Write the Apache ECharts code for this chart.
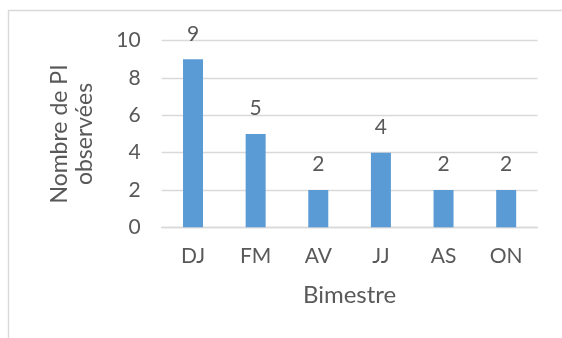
<!DOCTYPE html>
<html>
<head>
<meta charset="utf-8">
<script src="https://cdn.jsdelivr.net/npm/echarts@6/dist/echarts.min.js"></script>
<style>
  html, body { margin: 0; padding: 0; background: #ffffff; }
  #chart { width: 562px; height: 338px; }
</style>
</head>
<body>
<div id="chart"></div>
<script>
// Number of PI observed per two-month period
const categories = ['DJ', 'FM', 'AV', 'JJ', 'AS', 'ON'];
const counts = [9, 5, 2, 4, 2, 2];
const yTicks = [0, 2, 4, 6, 8, 10];

const textColor = '#595959';
const gridColor = '#d9d9d9';
const fontFamily = 'Lato, "Open Sans", sans-serif';

const chart = echarts.init(document.getElementById('chart'), null, { renderer: 'canvas' });

chart.setOption({
  animation: false,
  backgroundColor: '#ffffff',
  textStyle: { fontFamily: fontFamily, color: textColor },
  graphic: [{
    type: 'rect',
    shape: { x: 8.5, y: 10.5, width: 700, height: 500 },
    style: { fill: 'none', stroke: gridColor, lineWidth: 1.4 },
    silent: true,
    z: -1
  }],
  grid: { left: 161.7, right: 24.5, top: 40.7, bottom: 110.7 },
  xAxis: {
    type: 'category',
    data: categories,
    name: 'Bimestre',
    nameLocation: 'middle',
    nameGap: 56,
    nameTextStyle: { fontSize: 24, color: textColor, fontFamily: fontFamily },
    axisLine: { show: true, lineStyle: { color: gridColor, width: 1.4 } },
    axisTick: { show: false },
    axisLabel: { margin: 18, fontSize: 21, color: textColor, fontFamily: fontFamily }
  },
  yAxis: {
    type: 'value',
    min: yTicks[0],
    max: yTicks[yTicks.length - 1],
    interval: yTicks[1] - yTicks[0],
    name: 'Nombre de PI\nobservées',
    nameLocation: 'middle',
    nameGap: 65,
    nameTextStyle: { fontSize: 23, lineHeight: 25, color: textColor, fontFamily: fontFamily, align: 'center' },
    axisLine: { show: false },
    axisTick: { show: false },
    splitLine: { show: true, lineStyle: { color: gridColor, width: 1.4 } },
    axisLabel: { margin: 21, fontSize: 21, color: textColor, fontFamily: fontFamily }
  },
  series: [{
    type: 'bar',
    data: counts,
    barWidth: 20,
    itemStyle: { color: '#5b9bd5' },
    label: {
      show: true,
      position: 'top',
      distance: 15,
      fontSize: 21,
      color: textColor,
      fontFamily: fontFamily
    }
  }]
});
</script>
</body>
</html>
